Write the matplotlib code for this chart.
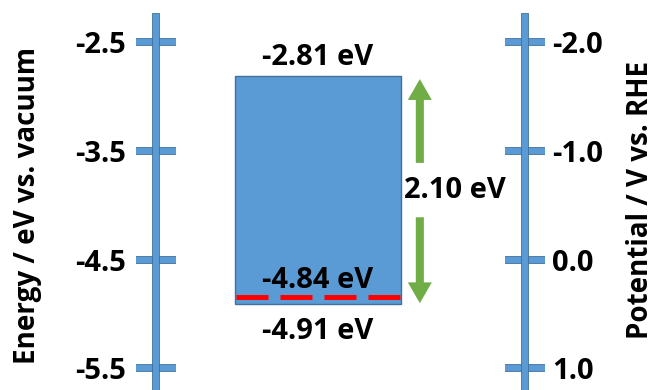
import matplotlib.pyplot as plt
import matplotlib.patheffects as pe
from matplotlib.patches import Rectangle, FancyArrowPatch

# band positions (eV vs. vacuum)
cb_edge = -2.81
vb_edge = -4.91
fermi = -4.84
gap = 2.10

# axis ticks
energy_ticks = [-2.5, -3.5, -4.5, -5.5]
energy_labels = ['-2.5', '-3.5', '-4.5', '-5.5']
rhe_ticks = [-2.0, -1.0, 0.0, 1.0]
rhe_labels = ['-2.0', '-1.0', '0.0', '1.0']

blue = '#5B9BD5'
dark_blue = '#41719C'
green = '#70AD47'

plt.rcParams['font.family'] = ['Open Sans', 'DejaVu Sans']
plt.rcParams['font.weight'] = 'bold'
fs = 21

fig = plt.figure(figsize=(6.58, 3.9), dpi=100)
ax = fig.add_axes([156 / 658, 0, (525 - 156) / 658, 373 / 390])
ax.patch.set_visible(False)
ax.set_xlim(0, 10)
ax.set_ylim(-5.698, -2.269)

# RHE scale: V = -E - 4.5
lo, hi = ax.get_ylim()
ax2 = ax.twinx()
ax2.set_ylim(-lo - 4.5, -hi - 4.5)

outline = [pe.Stroke(linewidth=5.6, foreground=dark_blue), pe.Normal()]

for a, side, ticks, labels, pad in [(ax, 'left', energy_ticks, energy_labels, 7),
                                     (ax2, 'right', rhe_ticks, rhe_labels, 5)]:
    for s in a.spines.values():
        s.set_visible(False)
    a.spines[side].set_visible(True)
    a.spines[side].set_color(blue)
    a.spines[side].set_linewidth(4.3)
    a.spines[side].set_path_effects(outline)
    a.set_xticks([])
    a.set_yticks(ticks)
    a.set_yticklabels(labels, fontsize=fs, fontweight='bold')
    a.tick_params(axis='y', direction='inout', length=29, width=4.3,
                  color=blue, pad=pad)
    for t in a.yaxis.get_major_ticks():
        t.tick1line.set_path_effects(outline)
        t.tick2line.set_path_effects(outline)

# band block
x0, x1 = 2.14, 6.64
xc = (x0 + x1) / 2
ax.add_patch(Rectangle((x0, vb_edge), x1 - x0, cb_edge - vb_edge,
                       facecolor=blue, edgecolor=dark_blue, linewidth=1, zorder=3))
ax.plot([x0 + 0.03, x1 - 0.03], [fermi, fermi], color='red', linewidth=3.6,
        dashes=(6.4, 2.4), solid_capstyle='butt', dash_capstyle='butt', zorder=4)

ax.annotate(f'{cb_edge:.2f} eV', (xc, cb_edge), xytext=(0, 8), textcoords='offset points',
            ha='center', va='baseline', fontsize=fs, fontweight='bold', zorder=5)
ax.annotate(f'{fermi:.2f} eV', (xc, fermi), xytext=(0, 6), textcoords='offset points',
            ha='center', va='baseline', fontsize=fs, fontweight='bold', zorder=5)
ax.annotate(f'{vb_edge:.2f} eV', (xc, vb_edge), xytext=(0, -9), textcoords='offset points',
            ha='center', va='top', fontsize=fs, fontweight='bold', zorder=5)

# band gap arrows
xa = 7.15
mid = (cb_edge + vb_edge) / 2
half = 0.25
for y_from, y_to in [(mid + half, cb_edge - 0.03), (mid - half, vb_edge + 0.01)]:
    ax.add_patch(FancyArrowPatch((xa, y_from), (xa, y_to),
                                 arrowstyle='simple,head_width=1.73,head_length=1.5,tail_width=0.58',
                                 mutation_scale=10, color=green, linewidth=0,
                                 shrinkA=0, shrinkB=0, zorder=3))
ax.text(8.1, mid, f'{gap:.2f} eV', ha='center', va='center', fontsize=fs, fontweight='bold')

fig.text(28 / 658, 1 - 205 / 390, 'Energy / eV vs. vacuum', rotation=90,
         ha='center', va='center', fontsize=20, fontweight='bold')
fig.text(640 / 658, 1 - 200 / 390, 'Potential / V vs. RHE', rotation=90,
         ha='center', va='center', fontsize=20, fontweight='bold')

fig.savefig('out.png', dpi=100)
